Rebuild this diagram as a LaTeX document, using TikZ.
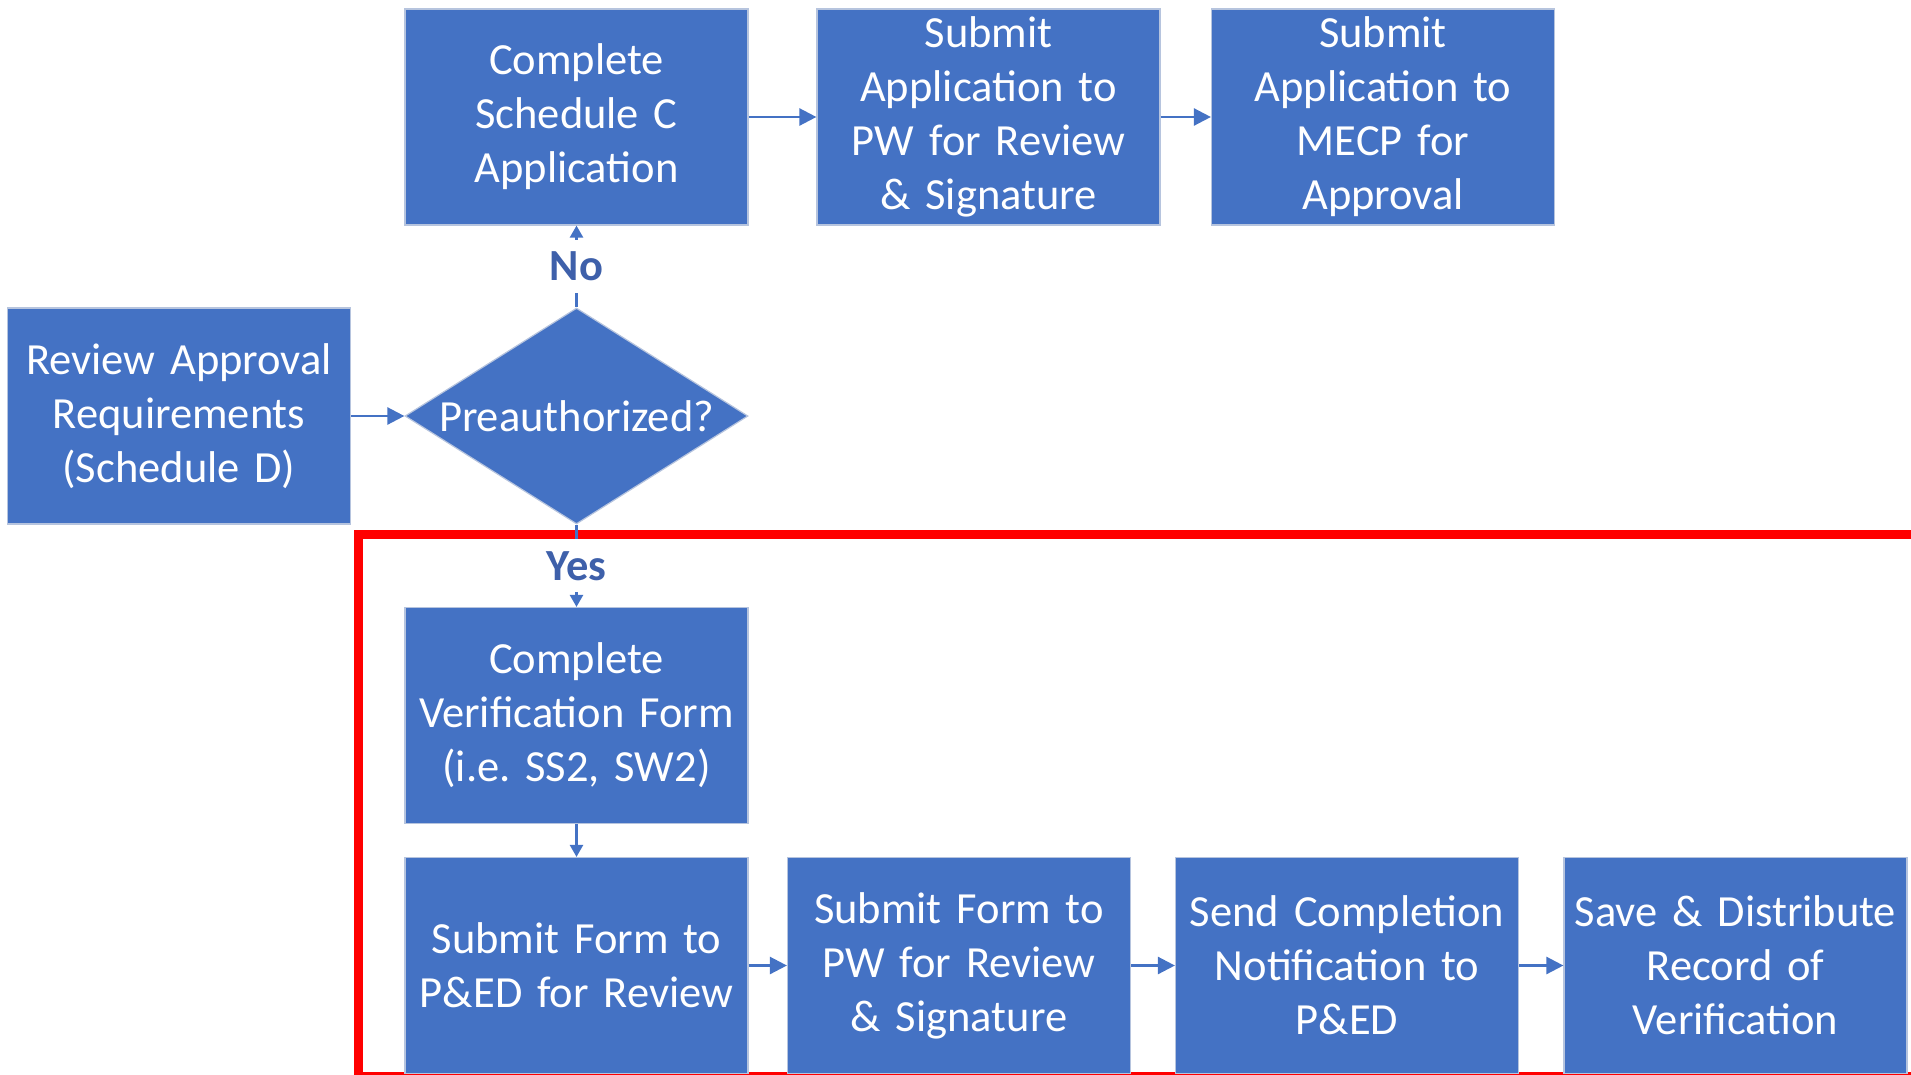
\documentclass[tikz,border=0pt]{standalone}
\usepackage{fontspec}
\setmainfont[WordSpace=0.8]{Carlito}
\usetikzlibrary{shapes.geometric,arrows.meta}
\definecolor{boxblue}{RGB}{68,114,196}
\definecolor{boxline}{RGB}{182,196,222}
\definecolor{labelblue}{RGB}{62,96,170}
\definecolor{markred}{RGB}{255,0,0}
\tikzset{
  stepbox/.style={rectangle, fill=boxblue, draw=boxline, line width=1.2pt,
    minimum width=343pt, minimum height=216pt, inner sep=0pt,
    text width=340pt, align=center, text=white,
    font=\fontsize{44.5}{54}\selectfont\frenchspacing},
  decision/.style={diamond, fill=boxblue, draw=boxline, line width=1.2pt,
    minimum width=343pt, minimum height=216pt, inner sep=0pt, aspect=1.59,
    text=white, font=\fontsize{44.5}{54}\selectfont},
  answer/.style={fill=white, text=labelblue, inner sep=12pt,
    font=\fontsize{44.5}{54}\selectfont\bfseries},
  flow/.style={draw=boxblue, line width=2.5pt, -{Triangle[length=17pt,width=17pt]}},
  shortflow/.style={flow, -{Triangle[length=12pt,width=13pt]}}
}
\begin{document}
\begin{tikzpicture}[x=1pt,y=-1pt]
  \useasboundingbox (0,0) rectangle (1911,1074);
  % verification part
  \draw[markred, line width=9pt] (358,534) rectangle (2000,1076);

  \node[stepbox] (review) at (179,416) {Review Approval\\Requirements\\(Schedule D)};
  \node[decision] (preauth) at (576.5,416) {Preauthorized?};

  \node[stepbox] (schedc) at (576.5,117) {Complete\\Schedule C\\Application};
  \node[stepbox] (apppw) at (988.5,117) {Submit\\Application to\\PW for Review\\\& Signature};
  \node[stepbox] (appmecp) at (1383,117) {Submit\\Application to\\MECP for\\Approval};

  \node[stepbox] (verif) at (576.5,715.5) {Complete\\Verification Form\\(i.e. SS2, SW2)};
  \node[stepbox] (formped) at (576.5,965.5) {Submit Form to\\P\&ED for Review};
  \node[stepbox] (formpw) at (959,965.5) {Submit Form to\\PW for Review\\\& Signature};
  \node[stepbox] (notify) at (1347,965.5) {Send Completion\\Notification to\\P\&ED};
  \node[stepbox] (record) at (1735.5,965.5) {Save \& Distribute\\Record of\\Verification};

  \begin{scope}[flow]
    \draw (review) -- (preauth);
    \draw (schedc) -- (apppw);
    \draw (apppw) -- (appmecp);
    \draw (formped) -- (formpw);
    \draw (formpw) -- (notify);
    \draw (notify) -- (record);
  \end{scope}
  \draw[shortflow] (preauth) -- node[answer] (no) {No} (schedc);
  \draw[shortflow] (preauth) -- node[answer] (yes) {Yes} (verif);
  \draw[shortflow] (verif) -- (formped);
\end{tikzpicture}
\end{document}
